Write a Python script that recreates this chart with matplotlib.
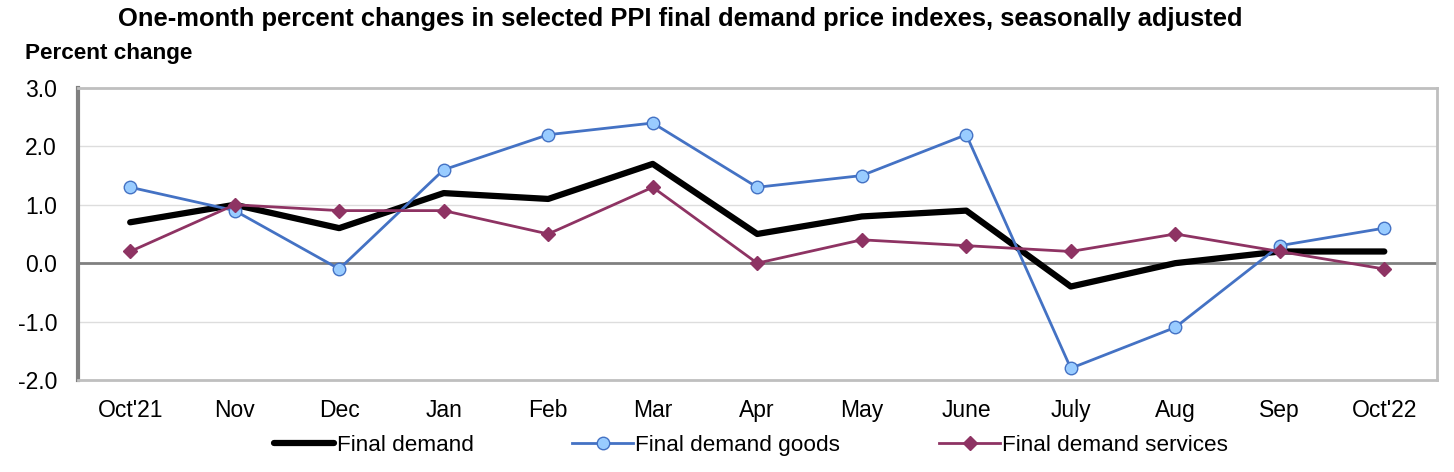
import matplotlib
matplotlib.use("Agg")
from matplotlib import pyplot as plt
import numpy as np

plt.rcParams['font.family'] = ['Liberation Sans', 'DejaVu Sans']

# months and series (percent change)
months = ["Oct'21", "Nov", "Dec", "Jan", "Feb", "Mar", "Apr", "May", "June",
          "July", "Aug", "Sep", "Oct'22"]
final_demand = [0.7, 1.0, 0.6, 1.2, 1.1, 1.7, 0.5, 0.8, 0.9, -0.4, 0.0, 0.2, 0.2]
fd_goods = [1.3, 0.9, -0.1, 1.6, 2.2, 2.4, 1.3, 1.5, 2.2, -1.8, -1.1, 0.3, 0.6]
fd_services = [0.2, 1.0, 0.9, 0.9, 0.5, 1.3, 0.0, 0.4, 0.3, 0.2, 0.5, 0.2, -0.1]
yticks = [3.0, 2.0, 1.0, 0.0, -1.0, -2.0]

fig = plt.figure(figsize=(14.54, 4.72), dpi=100)
ax = fig.add_axes([0.0536, 0.195, 0.9344, 0.6186])

x = np.arange(len(months))

# grid lines
for yv in yticks:
    if yv == 0.0:
        ax.axhline(yv, color='#808080', lw=2, zorder=1)
    else:
        ax.axhline(yv, color='#DDDDDD', lw=1, zorder=0)

ax.plot(x, final_demand, color='black', lw=4.5, solid_capstyle='round',
        label='Final demand', zorder=3)
ax.plot(x, fd_goods, color='#4472C4', lw=2, marker='o', markersize=9,
        markerfacecolor='#99CCFF', markeredgecolor='#4472C4', markeredgewidth=1,
        label='Final demand goods', zorder=4)
ax.plot(x, fd_services, color='#8E3363', lw=2, marker='D', markersize=7,
        markerfacecolor='#8E3363', markeredgecolor='#8E3363',
        label='Final demand services', zorder=5)

ax.set_xlim(-0.5, len(months) - 0.5)
ax.set_ylim(-2.0, 3.0)
ax.set_xticks(x)
ax.set_xticklabels(months, fontsize=16.5)
ax.set_yticks(yticks)
ax.set_yticklabels([f"{v:.1f}" for v in yticks], fontsize=16.5)
ax.tick_params(axis='both', length=0)
ax.tick_params(axis='x', pad=14)
ax.tick_params(axis='y', pad=15)

ax.spines['left'].set_color('#808080')
ax.spines['left'].set_linewidth(3)
for s in ['top', 'right', 'bottom']:
    ax.spines[s].set_color('#BFBFBF')
    ax.spines[s].set_linewidth(2)

fig.text(0.468, 0.96, 'One-month percent changes in selected PPI final demand price indexes, seasonally adjusted',
         ha='center', va='center', fontsize=18.4, fontweight='bold')
fig.text(0.017, 0.887, 'Percent change', ha='left', va='center',
         fontsize=16.2, fontweight='bold')

leg = fig.legend(loc='center', bbox_to_anchor=(0.5165, 0.057), ncol=3,
                 frameon=False, fontsize=16.2, handlelength=2.7,
                 handletextpad=0.1, columnspacing=4.4)

fig.savefig('out.png', dpi=100)
